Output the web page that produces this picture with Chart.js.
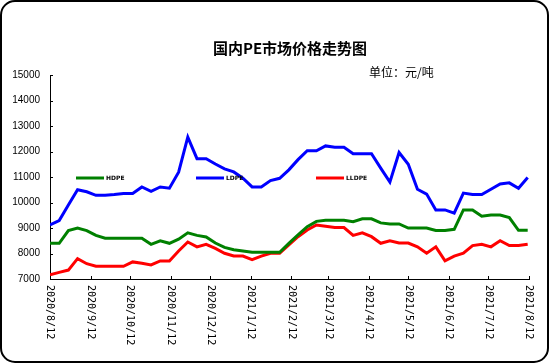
<!DOCTYPE html>
<html>
<head>
<meta charset="utf-8">
<script src="https://cdn.jsdelivr.net/npm/chart.js@4.4.0/dist/chart.umd.min.js"></script>
<style>
  html, body { margin: 0; padding: 0; background: #fff; }
  #wrap { position: relative; width: 550px; height: 364px; }
</style>
</head>
<body>
<div id="wrap"><canvas id="chart" width="550" height="364"></canvas></div>
<script>
// weekly sample dates
const dates = [
  '2020/8/12', '2020/8/19', '2020/8/26', '2020/9/2', '2020/9/9', '2020/9/16', '2020/9/23', '2020/9/30',
  '2020/10/7', '2020/10/14', '2020/10/21', '2020/10/28', '2020/11/4', '2020/11/11', '2020/11/18', '2020/11/25',
  '2020/12/2', '2020/12/9', '2020/12/16', '2020/12/23', '2020/12/30',
  '2021/1/6', '2021/1/13', '2021/1/20', '2021/1/27', '2021/2/3', '2021/2/10', '2021/2/17', '2021/2/24',
  '2021/3/3', '2021/3/10', '2021/3/17', '2021/3/24', '2021/3/31', '2021/4/7', '2021/4/14', '2021/4/21', '2021/4/28',
  '2021/5/5', '2021/5/12', '2021/5/19', '2021/5/26', '2021/6/2', '2021/6/9', '2021/6/16', '2021/6/23', '2021/6/30',
  '2021/7/7', '2021/7/14', '2021/7/21', '2021/7/28', '2021/8/4', '2021/8/11'
];

const hdpe = [
  8400, 8400, 8900, 9000, 8900, 8710, 8600, 8600, 8600, 8600, 8600, 8360, 8500, 8400, 8560, 8810,
  8710, 8650, 8410, 8240, 8150, 8100, 8050, 8050, 8050, 8050, 8400, 8730, 9050, 9260, 9300, 9300,
  9300, 9250, 9360, 9360, 9200, 9160, 9160, 9000, 9000, 9000, 8900, 8900, 8950, 9710, 9710, 9460,
  9510, 9510, 9410, 8910, 8910
];

const ldpe = [
  9120, 9290, 9900, 10500, 10420, 10280, 10280, 10310, 10350, 10350, 10610, 10440, 10610, 10560, 11190, 12560,
  11720, 11720, 11510, 11320, 11200, 10950, 10610, 10610, 10860, 10950, 11280, 11680, 12030, 12030, 12220, 12170,
  12170, 11910, 11910, 11910, 11350, 10800, 11960, 11500, 10520, 10330, 9710, 9710, 9580, 10370, 10310, 10310,
  10520, 10730, 10770, 10560, 10980
];

const lldpe = [
  7160, 7260, 7350, 7800, 7600, 7500, 7500, 7500, 7500, 7670, 7620, 7550, 7710, 7710, 8100, 8450,
  8260, 8360, 8200, 8010, 7900, 7900, 7760, 7900, 8010, 8010, 8340, 8660, 8920, 9120, 9070, 9020,
  9020, 8710, 8810, 8660, 8400, 8500, 8410, 8410, 8260, 8010, 8260, 7710, 7900, 8010, 8310, 8360,
  8260, 8500, 8310, 8310, 8360
];

const tickLabels = [
  '2020/8/12', '2020/9/12', '2020/10/12', '2020/11/12', '2020/12/12', '2021/1/12', '2021/2/12',
  '2021/3/12', '2021/4/12', '2021/5/12', '2021/6/12', '2021/7/12', '2021/8/12'
];

const seriesNames = ['HDPE', 'LDPE', 'LLDPE'];
const chartTitle = '国内PE市场价格走势图';
const unitText = '单位：元/吨';

// day offset from the first date
function dayOf(s) {
  const p = s.split('/').map(Number);
  const p0 = dates[0].split('/').map(Number);
  return (Date.UTC(p[0], p[1] - 1, p[2]) - Date.UTC(p0[0], p0[1] - 1, p0[2])) / 86400000;
}

function toPoints(vals) {
  return vals.map((v, i) => ({ x: dayOf(dates[i]), y: v }));
}

const colors = ['#008000', '#0000ff', '#ff0000'];

// frame, titles, inward ticks, rotated date labels, legend
const decor = {
  id: 'decor',
  beforeDraw(chart) {
    const ctx = chart.ctx;
    ctx.save();
    ctx.fillStyle = '#fff';
    ctx.fillRect(0, 0, chart.width, chart.height);
    ctx.restore();
  },
  afterDraw(chart) {
    const ctx = chart.ctx;
    const xs = chart.scales.x, ys = chart.scales.y;
    const area = chart.chartArea;
    ctx.save();

    // outer rounded frame
    ctx.strokeStyle = '#000';
    ctx.lineWidth = 2;
    ctx.beginPath();
    ctx.roundRect(1, 1, 547, 361, 14);
    ctx.stroke();

    // title
    ctx.fillStyle = '#000';
    ctx.font = 'bold 15px "Noto Sans CJK SC"';
    ctx.textAlign = 'center';
    ctx.textBaseline = 'middle';
    ctx.fillText(chartTitle, 290, 48);

    ctx.font = '12px "Noto Sans CJK SC"';
    ctx.textAlign = 'left';
    ctx.fillText(unitText, 369, 72);

    // inward ticks
    ctx.lineWidth = 1;
    ctx.strokeStyle = '#000';
    ctx.beginPath();
    ys.ticks.forEach(t => {
      const y = Math.round(ys.getPixelForValue(t.value)) + 0.5;
      ctx.moveTo(area.left, y);
      ctx.lineTo(area.left + 3, y);
    });
    xs.ticks.forEach(t => {
      const x = Math.round(xs.getPixelForValue(t.value)) + 0.5;
      ctx.moveTo(x, area.bottom);
      ctx.lineTo(x, area.bottom - 3);
    });
    ctx.stroke();

    // date labels, rotated clockwise
    ctx.font = '10px "DejaVu Sans Mono"';
    ctx.textAlign = 'left';
    ctx.textBaseline = 'middle';
    tickLabels.forEach(lbl => {
      const x = xs.getPixelForValue(dayOf(lbl));
      ctx.save();
      ctx.translate(x, area.bottom + 6);
      ctx.rotate(Math.PI / 2);
      ctx.fillText(lbl, 0, 0);
      ctx.restore();
    });

    // legend inside plot
    chart.data.datasets.forEach((ds, i) => {
      const lx = 76 + i * 120, ly = 178;
      ctx.strokeStyle = ds.borderColor;
      ctx.lineWidth = 3;
      ctx.beginPath();
      ctx.moveTo(lx, ly);
      ctx.lineTo(lx + 28, ly);
      ctx.stroke();
      ctx.fillStyle = '#000';
      ctx.font = 'bold 6px "DejaVu Sans"';
      ctx.textAlign = 'left';
      ctx.fillText(ds.label, lx + 30, ly);
    });

    ctx.restore();
  }
};

new Chart(document.getElementById('chart'), {
  type: 'line',
  data: {
    datasets: [hdpe, ldpe, lldpe].map((vals, i) => ({
      label: seriesNames[i],
      data: toPoints(vals),
      borderColor: colors[i],
      backgroundColor: colors[i],
      borderWidth: 3,
      pointRadius: 0,
      tension: 0
    }))
  },
  options: {
    responsive: false,
    animation: false,
    devicePixelRatio: 1,
    layout: {
      padding: { left: 0, top: 75, right: 21, bottom: 0 }
    },
    plugins: {
      legend: { display: false },
      title: { display: false },
      tooltip: { enabled: false }
    },
    scales: {
      x: {
        type: 'linear',
        min: 0,
        max: dayOf(tickLabels[tickLabels.length - 1]),
        afterBuildTicks: scale => {
          scale.ticks = tickLabels.map(l => ({ value: dayOf(l) }));
        },
        afterFit: scale => { scale.height = 85; },
        grid: { drawOnChartArea: false, drawTicks: false },
        border: { display: true, color: '#000', width: 1 },
        ticks: { display: false }
      },
      y: {
        min: 7000,
        max: 15000,
        afterFit: scale => { scale.width = 50; },
        grid: { drawOnChartArea: false, drawTicks: false },
        border: { display: true, color: '#000', width: 1 },
        ticks: {
          stepSize: 1000,
          padding: 10,
          color: '#000',
          font: { family: 'Liberation Sans', size: 10 },
          callback: v => String(v)
        }
      }
    }
  },
  plugins: [decor]
});
</script>
</body>
</html>
